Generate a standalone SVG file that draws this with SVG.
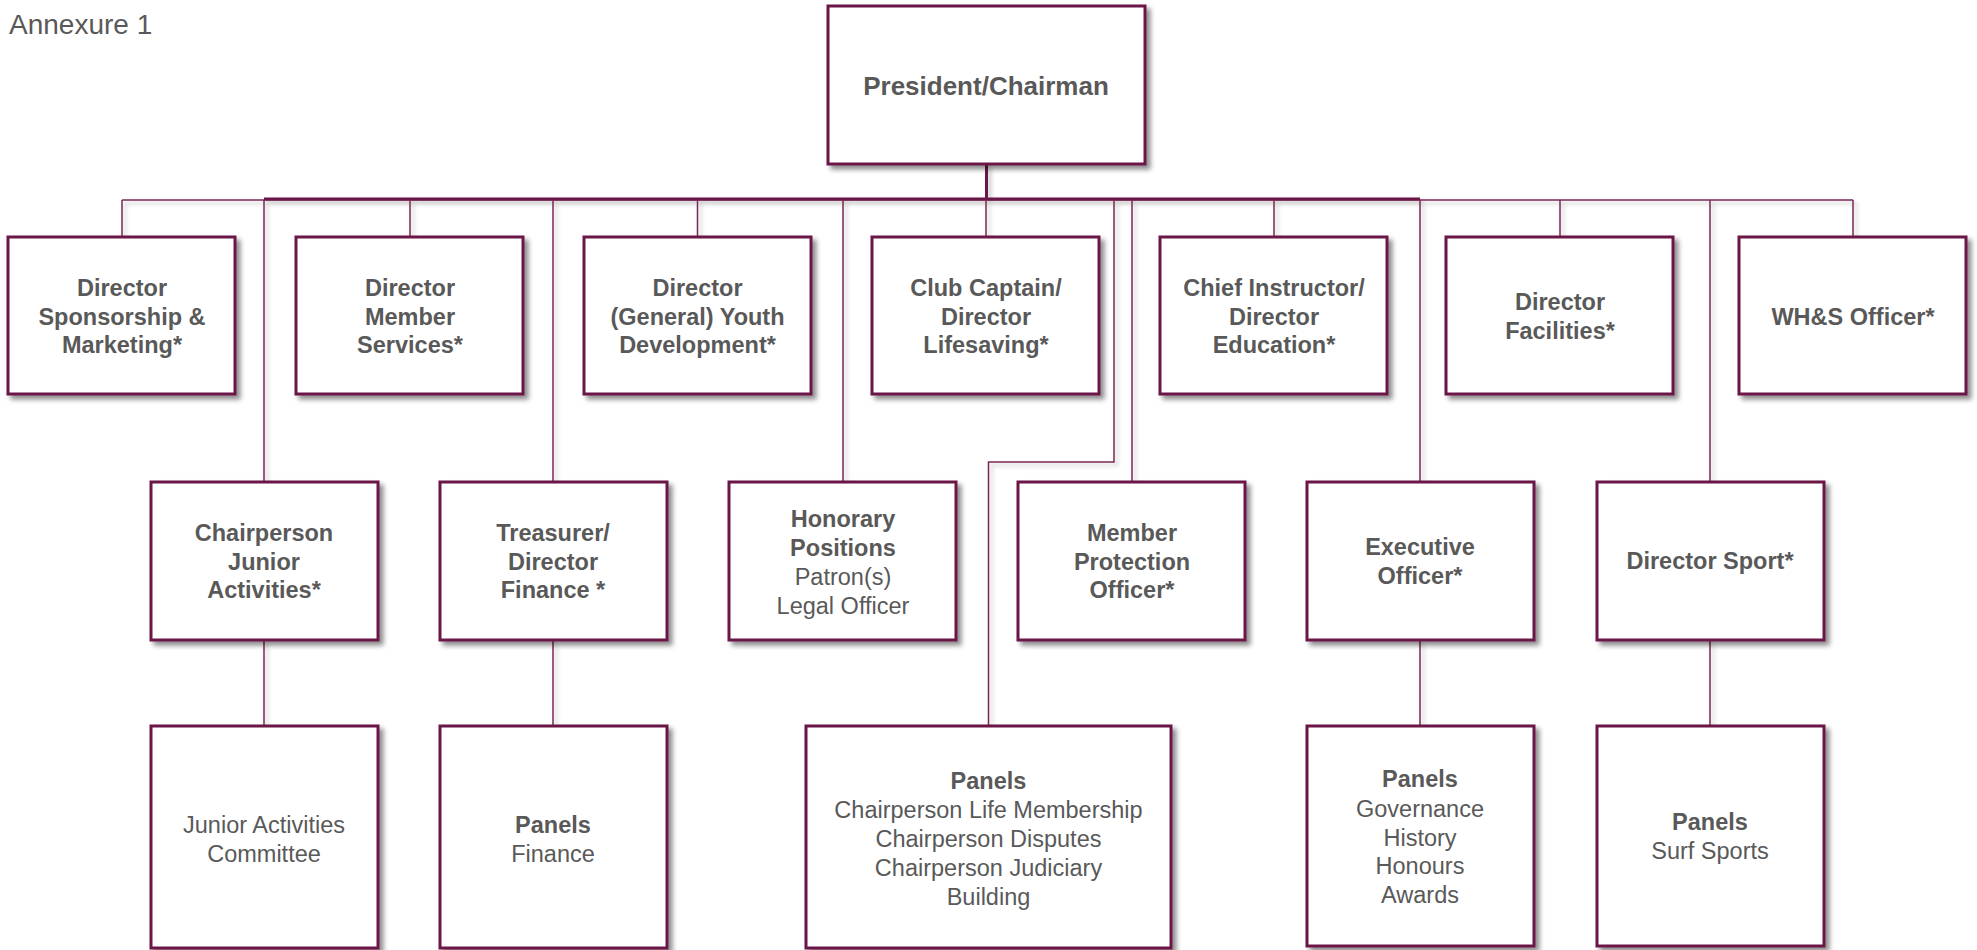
<svg xmlns="http://www.w3.org/2000/svg" width="1977" height="950" viewBox="0 0 1977 950">
<defs>
<filter id="sh" x="-10%" y="-10%" width="130%" height="130%">
<feDropShadow dx="4" dy="4" stdDeviation="2.5" flood-color="#000" flood-opacity="0.45"/>
</filter>
<filter id="lsh" x="-50%" y="-50%" width="200%" height="200%">
<feDropShadow dx="3" dy="3" stdDeviation="2" flood-color="#000" flood-opacity="0.25"/>
</filter>
</defs>
<style>
.box{fill:#fff;stroke:#6b1446;stroke-width:3;filter:url(#sh)}
.t{font-family:"Liberation Sans",Arial,sans-serif;font-size:23.5px;fill:#595959;text-anchor:middle}
.b{font-weight:bold}
.c{fill:none;stroke:#7a2a56;stroke-width:1.5}
.ct{fill:none;stroke:#6b1446;stroke-width:3}
</style>
<rect width="1977" height="950" fill="#fff"/>
<text x="9" y="34" style="font-family:'Liberation Sans',Arial,sans-serif;font-size:28px;fill:#595959">Annexure 1</text>

<g id="connectors" filter="url(#lsh)">
<path class="ct" d="M986.5 164V200"/>
<path class="c" d="M122 200H1853"/>
<path class="ct" d="M264 199H1420"/>
<path class="c" d="M122 200V237M410 200V237M697.5 200V237M986 200V237M1274 200V237M1560 200V237M1853 200V237"/>
<path class="c" d="M264 200V482M553 200V482M843 200V482M1132 200V482M1420 200V482M1710 200V482"/>
<path class="c" d="M1114 200V462H988.5V726"/>
<path class="c" d="M264 640V726M553 640V726M1420 640V726M1710 640V726"/>
</g>

<g id="president"><rect class="box" x="828" y="6" width="317" height="158"/><text class="t b" x="986" y="95" style="font-size:26px">President/Chairman</text></g>

<g id="sponsorship"><rect class="box" x="8" y="237" width="227" height="157"/><text class="t b"><tspan x="122" y="296">Director</tspan><tspan x="122" y="324.5">Sponsorship &amp;</tspan><tspan x="122" y="353">Marketing*</tspan></text></g>
<g id="member-services"><rect class="box" x="296" y="237" width="227" height="157"/><text class="t b"><tspan x="410" y="296">Director</tspan><tspan x="410" y="324.5">Member</tspan><tspan x="410" y="353">Services*</tspan></text></g>
<g id="youth"><rect class="box" x="584" y="237" width="227" height="157"/><text class="t b"><tspan x="697.5" y="296">Director</tspan><tspan x="697.5" y="324.5">(General) Youth</tspan><tspan x="697.5" y="353">Development*</tspan></text></g>
<g id="club-captain"><rect class="box" x="872" y="237" width="227" height="157"/><text class="t b"><tspan x="986" y="296">Club Captain/</tspan><tspan x="986" y="324.5">Director</tspan><tspan x="986" y="353">Lifesaving*</tspan></text></g>
<g id="chief-instructor"><rect class="box" x="1160" y="237" width="227" height="157"/><text class="t b"><tspan x="1274" y="296">Chief Instructor/</tspan><tspan x="1274" y="324.5">Director</tspan><tspan x="1274" y="353">Education*</tspan></text></g>
<g id="facilities"><rect class="box" x="1446" y="237" width="227" height="157"/><text class="t b"><tspan x="1560" y="310">Director</tspan><tspan x="1560" y="338.5">Facilities*</tspan></text></g>
<g id="whs"><rect class="box" x="1739" y="237" width="227" height="157"/><text class="t b" x="1853" y="325">WH&amp;S Officer*</text></g>

<g id="junior"><rect class="box" x="151" y="482" width="227" height="158"/><text class="t b"><tspan x="264" y="541">Chairperson</tspan><tspan x="264" y="569.5">Junior</tspan><tspan x="264" y="598">Activities*</tspan></text></g>
<g id="treasurer"><rect class="box" x="440" y="482" width="227" height="158"/><text class="t b"><tspan x="553" y="541">Treasurer/</tspan><tspan x="553" y="569.5">Director</tspan><tspan x="553" y="598">Finance *</tspan></text></g>
<g id="honorary"><rect class="box" x="729" y="482" width="227" height="158"/><text class="t"><tspan class="b" x="843" y="527">Honorary</tspan><tspan class="b" x="843" y="556">Positions</tspan><tspan x="843" y="585">Patron(s)</tspan><tspan x="843" y="613.5">Legal Officer</tspan></text></g>
<g id="member-protection"><rect class="box" x="1018" y="482" width="227" height="158"/><text class="t b"><tspan x="1132" y="541">Member</tspan><tspan x="1132" y="569.5">Protection</tspan><tspan x="1132" y="598">Officer*</tspan></text></g>
<g id="executive"><rect class="box" x="1307" y="482" width="227" height="158"/><text class="t b"><tspan x="1420" y="555">Executive</tspan><tspan x="1420" y="584">Officer*</tspan></text></g>
<g id="sport"><rect class="box" x="1597" y="482" width="227" height="158"/><text class="t b" x="1710" y="569">Director Sport*</text></g>

<g id="jac"><rect class="box" x="151" y="726" width="227" height="222"/><text class="t"><tspan x="264" y="833">Junior Activities</tspan><tspan x="264" y="862">Committee</tspan></text></g>
<g id="panels-finance"><rect class="box" x="440" y="726" width="227" height="222"/><text class="t"><tspan class="b" x="553" y="833">Panels</tspan><tspan x="553" y="862">Finance</tspan></text></g>
<g id="panels-main"><rect class="box" x="806" y="726" width="365" height="222"/><text class="t"><tspan class="b" x="988.5" y="789">Panels</tspan><tspan x="988.5" y="818">Chairperson Life Membership</tspan><tspan x="988.5" y="847">Chairperson Disputes</tspan><tspan x="988.5" y="876">Chairperson Judiciary</tspan><tspan x="988.5" y="904.5">Building</tspan></text></g>
<g id="panels-exec"><rect class="box" x="1307" y="726" width="227" height="220"/><text class="t"><tspan class="b" x="1420" y="787">Panels</tspan><tspan x="1420" y="816.5">Governance</tspan><tspan x="1420" y="845.5">History</tspan><tspan x="1420" y="874">Honours</tspan><tspan x="1420" y="902.5">Awards</tspan></text></g>
<g id="panels-sport"><rect class="box" x="1597" y="726" width="227" height="220"/><text class="t"><tspan class="b" x="1710" y="830">Panels</tspan><tspan x="1710" y="858.5">Surf Sports</tspan></text></g>
</svg>
